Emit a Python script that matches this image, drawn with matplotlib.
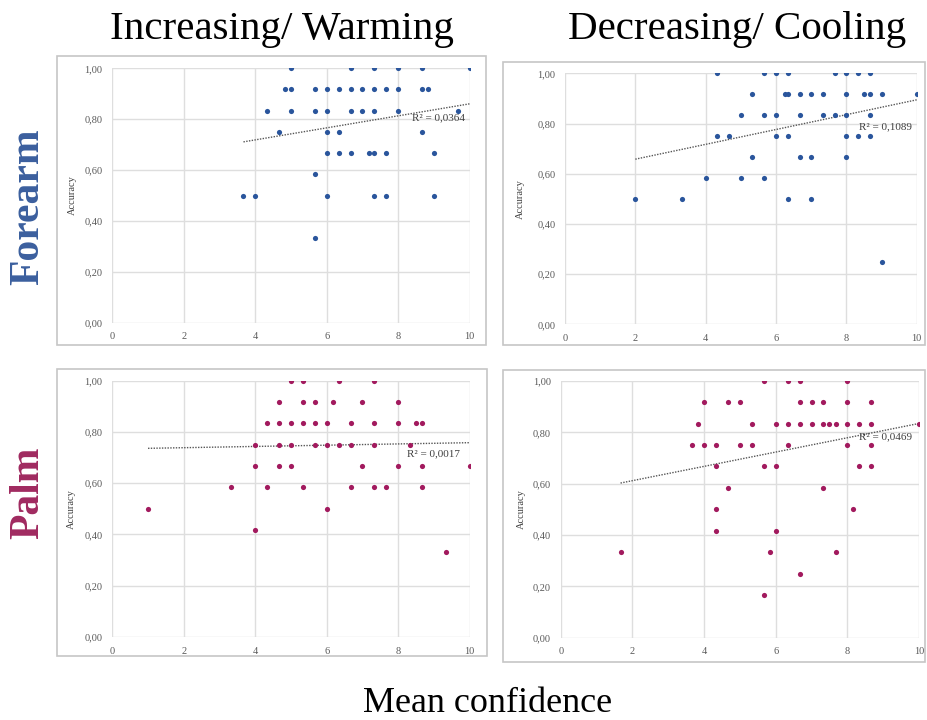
import numpy as np
import matplotlib
matplotlib.use('Agg')
import matplotlib.pyplot as plt
from matplotlib.patches import Rectangle

plt.rcParams['font.family'] = 'Liberation Serif'

#%% Data (x = mean confidence, y = accuracy)

# Forearm, increasing / warming
forearm_inc_conf = [5, 6.67, 7.33, 8, 8.67, 10,
                    4.83, 5, 5.67, 6, 6.33, 6.67, 7, 7.33, 7.67, 8, 8.67, 8.83,
                    4.33, 5, 5.67, 6, 6.67, 7, 7.33, 8, 9.67,
                    4.67, 6, 6.33, 8.67,
                    6, 6.33, 6.67, 7.17, 7.33, 7.67, 9,
                    5.67,
                    3.67, 4, 6, 7.33, 7.67, 9,
                    5.67]
forearm_inc_acc = [1.0] * 6 + [0.917] * 12 + [0.833] * 9 + [0.75] * 4 + \
                  [0.667] * 7 + [0.583] + [0.5] * 6 + [0.333]

# Forearm, decreasing / cooling
forearm_dec_conf = [4.33, 5.67, 6, 6.33, 7.67, 8, 8.33, 8.67,
                    5.33, 6.25, 6.33, 6.67, 7, 7.33, 8, 8.5, 8.67, 9, 10,
                    5, 5.67, 6, 6.67, 7.33, 7.67, 8, 8.67,
                    4.33, 4.67, 6, 6.33, 8, 8.33, 8.67,
                    5.33, 6.67, 7, 8,
                    4, 5, 5.67,
                    2, 3.33, 6.33, 7,
                    9]
forearm_dec_acc = [1.0] * 8 + [0.917] * 11 + [0.833] * 8 + [0.75] * 7 + \
                  [0.667] * 4 + [0.583] * 3 + [0.5] * 4 + [0.25]

# Palm, increasing / warming
palm_inc_conf = [5, 5.33, 6.33, 7.33,
                 4.67, 5.33, 5.67, 6.17, 7, 8,
                 4.33, 4.67, 5, 5.33, 5.67, 6, 6.67, 7.33, 8, 8.5, 8.67,
                 4, 4.67, 5, 5.67, 6, 6.33, 6.67, 7.33, 8.33,
                 4, 4.67, 5, 7, 8, 8.67, 10,
                 3.33, 4.33, 5.33, 6.67, 7.33, 7.67, 8.67,
                 1, 6,
                 4,
                 9.33]
palm_inc_acc = [1.0] * 4 + [0.917] * 6 + [0.833] * 11 + [0.75] * 9 + \
               [0.667] * 7 + [0.583] * 7 + [0.5] * 2 + [0.417] + [0.333]

# Palm, decreasing / cooling
palm_dec_conf = [5.67, 6.33, 6.67, 8,
                 4, 4.67, 5, 6.67, 7, 7.33, 8, 8.67,
                 3.83, 5.33, 6, 6.33, 6.67, 7, 7.33, 7.5, 7.67, 8, 8.33, 8.67, 10,
                 3.67, 4, 4.33, 5, 5.33, 6.33, 8, 8.67,
                 4.33, 5.67, 6, 8.33, 8.67,
                 4.67, 7.33,
                 4.33, 8.17,
                 4.33, 6,
                 1.67, 5.83, 7.67,
                 6.67,
                 5.67]
palm_dec_acc = [1.0] * 4 + [0.917] * 8 + [0.833] * 13 + [0.75] * 8 + \
               [0.667] * 5 + [0.583] * 2 + [0.5] * 2 + [0.417] * 2 + \
               [0.333] * 3 + [0.25] + [0.167]

r2_labels = ['R² = 0,0364', 'R² = 0,1089', 'R² = 0,0017', 'R² = 0,0469']
col_titles = ['Increasing/ Warming', 'Decreasing/ Cooling']
row_titles = ['Forearm', 'Palm']

#%% Settings
W, H = 927, 720
blue = '#2a559c'
maroon = '#a21a5e'
grid_c = '#dedede'
tick_c = '#595959'

# axes boxes in pixels: left, top, right, bottom
ax_px = [(112.3, 68.3, 469.7, 322.7),
         (565.0, 73.3, 916.7, 324.3),
         (112.3, 380.5, 469.7, 637.0),
         (560.7, 381.0, 919.0, 637.7)]
frame_px = [(57, 56, 486, 345),
            (503, 62, 925, 345),
            (57, 369, 487, 656),
            (503, 370, 925, 662)]
r2_pos = [(9.12, 0.805), (9.12, 0.787), (9.0, 0.713), (9.07, 0.782)]
ylab_x = [-0.099, -0.114, -0.102, -0.098]

panels = [(forearm_inc_conf, forearm_inc_acc, blue),
          (forearm_dec_conf, forearm_dec_acc, blue),
          (palm_inc_conf, palm_inc_acc, maroon),
          (palm_dec_conf, palm_dec_acc, maroon)]

fig = plt.figure(figsize=(W / 100, H / 100), dpi=100)

for i, (xs, ys, col) in enumerate(panels):
    fl, ft, fr, fb = frame_px[i]
    fig.patches.append(Rectangle((fl / W, 1 - fb / H), (fr - fl) / W, (fb - ft) / H,
                                 transform=fig.transFigure, fill=False,
                                 edgecolor='#c6c6c6', lw=1.2))
    l, t, r, b = ax_px[i]
    ax = fig.add_axes([l / W, 1 - b / H, (r - l) / W, (b - t) / H])
    xs = np.array(xs)
    ys = np.array(ys)
    ax.scatter(xs, ys, s=14, color=col, zorder=3, linewidths=0)

    # linear trend line like excel
    k, c0 = np.polyfit(xs, ys, 1)
    xt = np.array([xs.min(), xs.max()])
    ax.plot(xt, k * xt + c0, color='#555555', lw=1.0, ls=(0, (1, 1)), zorder=2)
    ax.text(r2_pos[i][0], r2_pos[i][1], r2_labels[i], fontsize=8,
            color='#404040', ha='center', va='center', zorder=4)

    ax.set_xlim(0, 10)
    ax.set_ylim(0, 1)
    ax.set_xticks([0, 2, 4, 6, 8, 10])
    ax.set_yticks([0, 0.2, 0.4, 0.6, 0.8, 1.0])
    ax.set_yticklabels([('%.2f' % v).replace('.', ',') for v in ax.get_yticks()])
    ax.grid(True, color=grid_c, lw=1.0)
    ax.set_axisbelow(True)
    for sp in ax.spines.values():
        sp.set_visible(False)
    ax.tick_params(length=0, labelsize=7.5, labelcolor=tick_c, pad=7)
    ax.set_ylabel('Accuracy', fontsize=7.5, color='#404040')
    ax.yaxis.set_label_coords(ylab_x[i], 0.5)

# column / row headers
fig.text(282 / W, 1 - 30 / H, col_titles[0], fontsize=29.5, ha='center', va='center')
fig.text(737 / W, 1 - 30 / H, col_titles[1], fontsize=29.5, ha='center', va='center')
fig.text(28 / W, 1 - 207 / H, row_titles[0], fontsize=30, fontweight='bold',
         color='#3b5f9e', rotation=90, ha='center', va='center')
fig.text(28 / W, 1 - 493 / H, row_titles[1], fontsize=30, fontweight='bold',
         color='#a02a60', rotation=90, ha='center', va='center')
fig.text(488 / W, 1 - 703 / H, 'Mean confidence', fontsize=26, ha='center', va='center')

fig.savefig('out.png', dpi=100, facecolor='white')
